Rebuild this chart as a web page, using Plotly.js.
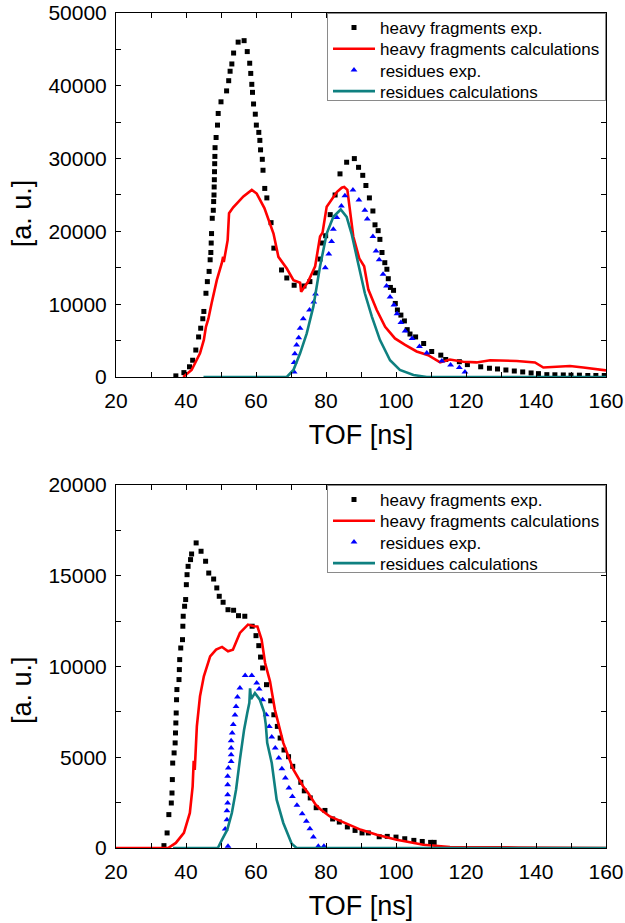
<!DOCTYPE html>
<html>
<head>
<meta charset="utf-8">
<script src="https://cdn.plot.ly/plotly-3.0.1.min.js"></script>
<style>
html,body{margin:0;padding:0;background:#fff;}
#chart{width:625px;height:923px;}
</style>
</head>
<body>
<div id="chart"></div>
<script>
// ---------- Top panel data ----------
const topHeavyExpX = [37.1,39.4,41.0,41.9,42.8,43.6,44.2,44.8,45.1,45.7,46.1,46.6,46.9,47.1,47.2,47.3,47.5,47.8,47.9,48.0,48.05,48.1,48.15,48.2,48.25,48.3,48.6,49.0,49.2,50.0,51.6,52.2,52.6,53.1,53.6,54.9,56.6,57.5,58.2,58.5,58.8,59.0,59.3,59.8,60.1,60.8,61.1,61.3,61.8,62.0,62.5,63.1,64.3,65.1,67.3,68.8,70.9,73.7,75.4,77.0,78.3,79.0,79.9,81.2,82.6,84.0,85.9,88.1,89.3,90.5,91.4,92.4,93.4,94.0,94.9,95.4,96.0,96.8,97.4,97.8,98.4,99.3,99.8,100.4,101.4,102.4,103.2,104.0,105.6,107.9,110.2,112.8,114.2,118.1,120.4,124.2,126.7,129.0,131.4,133.8,136.2,138.6,140.7,143.1,145.4,147.8,150.0,152.4,154.8,157.1,159.5];
const topHeavyExpY = [150,600,1400,2300,3700,5500,6700,8000,9000,11500,13100,14500,16100,17100,18400,19700,21800,22900,24100,25000,26100,27100,28200,29300,30300,31500,32900,34600,36200,37800,39300,40700,42000,43000,44500,46000,46200,44700,43100,41700,40200,39100,37500,36100,34600,33600,32500,31200,29900,28400,25900,24600,21200,17700,14700,13600,12600,12500,13100,14300,16200,18400,19400,22300,25000,27900,29500,30000,28800,27700,26300,24600,22800,20900,20100,18900,17100,15700,14800,13500,12300,11900,10100,9200,8500,7700,6500,5900,5500,4600,3500,3000,2400,2100,1700,1400,1200,1100,960,820,690,550,460,320,300,280,250,250,200,200,200];

const topHeavyCalcX = [39.2,41.6,44.0,45.1,45.7,46.4,47.3,48.8,50.2,50.6,50.8,51.9,52.3,53.5,56.4,58.8,60.2,62.1,62.4,65.0,66.4,68.8,70.7,72.6,72.9,74.9,76.9,78.3,79.0,80.2,83.1,84.5,85.2,86.1,86.9,87.8,89.5,90.9,92.1,94.5,96.9,99.7,102.6,105.9,109.2,112.6,115.4,119.2,123.0,126.9,134.5,139.7,142.1,149.7,153.5,159.2,160];
const topHeavyCalcY = [0,960,3250,5100,6900,8000,10100,13300,15600,16500,15800,18800,22500,23300,24800,25700,25200,23600,23200,19700,16500,14900,13300,12950,11700,13100,15200,19300,19800,23400,25400,26000,26100,25700,22500,19300,16300,15200,12000,9200,6900,5300,4400,3500,3000,2000,2400,2100,2000,2300,2200,2000,1300,1500,1300,960,900];

const topResExpX = [70.9,70.9,71.1,71.6,72.2,72.6,73.5,75.3,76.5,77.0,79.8,80.8,81.6,82.1,83.1,84.4,85.4,87.7,89.4,91.1,91.8,93.4,94.3,95.2,96.3,97.3,98.3,99.4,100.3,101.4,102.6,104.6,106.7,108.8,113.1,115.6,118.1,119.7];
const topResExpY = [700,2000,3200,4400,5400,6700,8000,9200,10300,11400,15000,16900,18600,20300,21900,23500,24900,25700,24300,22900,21700,19300,17300,16100,14100,12500,11000,9900,8700,7500,6300,5300,4200,3300,2200,1650,1300,700];

const topResCalcX = [45.0,68.8,70.7,72.6,74.5,76.4,78.3,80.2,82.1,84.2,85.9,87.3,89.2,91.1,93.1,95.4,98.3,101.1,105.0,108.8,160];
const topResCalcY = [0,0,960,3250,6000,9700,15200,19700,22000,23000,22000,19700,15600,11500,8300,5100,2300,960,270,0,0];

// ---------- Bottom panel data ----------
const botHeavyExpX = [33.7,34.6,35.1,35.8,36.0,36.1,36.2,36.6,36.9,37.0,37.1,37.2,37.3,37.4,38.0,38.1,38.2,38.5,39.0,39.1,39.2,39.6,39.9,40.1,40.3,40.6,41.3,41.6,42.9,44.3,45.6,46.5,47.9,48.8,49.5,50.6,52.0,53.6,55.0,56.8,58.9,60.0,60.8,61.3,61.9,63.0,64.2,65.1,66.1,66.9,68.0,69.3,70.5,72.8,73.8,75.5,77.2,79.7,81.9,83.8,86.1,88.3,90.3,92.1,95.2,97.5,100.0,102.5,105.1,107.5,109.9,110.9];
const botHeavyExpY = [130,830,1840,2480,3030,3770,4680,5240,5790,6340,6890,7440,8170,8730,9280,9830,10380,11020,11480,12220,12770,13320,13690,14510,15060,15520,15890,16200,16810,16350,15800,15150,14820,14330,13870,13540,13130,13100,12800,12770,12220,11700,11150,10520,9920,9000,8110,7340,6700,6060,5400,5030,4500,3620,3150,2760,2220,2070,1600,1430,1160,970,830,830,620,640,600,510,420,360,310,310];

const botHeavyCalcX = [20,34.9,37.1,39.4,41.1,41.9,42.2,42.5,43.1,44.0,45.1,46.9,48.6,50.3,52.0,53.4,55.4,57.7,59.4,60.4,61.6,62.6,64.0,65.4,67.8,70.7,73.5,74.9,77.0,78.3,81.1,84.0,86.9,90.0,94.5,100.2,107.8,115.4,135.0,144.0,160];
const botHeavyCalcY = [0,0,280,830,1930,3400,4800,4300,6700,8360,9460,10560,10930,11080,10840,10930,11850,12310,12220,12210,11480,10190,9180,7620,5790,4310,3390,3030,2400,2150,1740,1500,1280,1000,730,460,180,55,30,20,0];

const botResExpX = [52.0,51.2,51.7,51.7,51.9,51.9,51.9,51.9,52.1,52.9,52.9,52.9,52.9,53.2,53.5,54.0,54.3,54.7,55.4,56.9,58.8,60.2,60.9,61.9,62.9,63.8,64.5,65.5,66.5,67.4,68.4,69.4,70.4,71.7,73.2,74.4,75.4,76.4,77.8,79.4];
const botResExpY = [90,1050,1560,2050,2480,2940,3490,3950,4410,4770,5140,5510,5910,6340,6800,7330,7800,8320,8820,9500,9500,9090,8760,8170,7340,6700,6120,5510,4960,4370,3860,3310,2840,2350,1890,1470,1060,600,90,90];

const botResCalcX = [36.3,49.1,50.3,51.8,53.1,54.3,55.4,56.6,57.5,58.1,58.3,58.6,59.7,61.1,62.3,62.8,63.2,64.5,65.9,67.8,70.2,71.6,160];
const botResCalcY = [0,0,460,1010,1930,3210,4870,6520,7440,8000,8800,8200,8540,8170,7500,6800,5800,4680,2660,1380,240,0,0];

const seriesNames = ['heavy fragments exp.','heavy fragments calculations','residues exp.','residues calculations'];
const xTitle = 'TOF [ns]';
const yTitle = '[a. u.]';

// ---------- styles ----------
const FONT = 'Liberation Sans, Arial, Helvetica, sans-serif';
const cBlack = '#000000', cRed = '#ff0000', cBlue = '#0000ff', cTeal = '#0f8080';

function mk(x, y, idx, xa, ya, leg) {
  const base = {x: x, y: y, xaxis: xa, yaxis: ya, name: seriesNames[idx], legend: leg, showlegend: true};
  if (idx === 0) return Object.assign(base, {mode: 'markers', type: 'scatter', marker: {symbol: 'square', size: 5, color: cBlack}});
  if (idx === 1) return Object.assign(base, {mode: 'lines', type: 'scatter', line: {color: cRed, width: 2.6}});
  if (idx === 2) return Object.assign(base, {mode: 'markers', type: 'scatter', marker: {symbol: 'triangle-up', size: 6, color: cBlue}});
  return Object.assign(base, {mode: 'lines', type: 'scatter', line: {color: cTeal, width: 2.6}});
}

const traces = [
  mk(topHeavyExpX, topHeavyExpY, 0, 'x', 'y', 'legend'),
  mk(topHeavyCalcX, topHeavyCalcY, 1, 'x', 'y', 'legend'),
  mk(topResExpX, topResExpY, 2, 'x', 'y', 'legend'),
  mk(topResCalcX, topResCalcY, 3, 'x', 'y', 'legend'),
  mk(botHeavyExpX, botHeavyExpY, 0, 'x2', 'y2', 'legend2'),
  mk(botHeavyCalcX, botHeavyCalcY, 1, 'x2', 'y2', 'legend2'),
  mk(botResExpX, botResExpY, 2, 'x2', 'y2', 'legend2'),
  mk(botResCalcX, botResCalcY, 3, 'x2', 'y2', 'legend2')
];

const topDomain = [0.5641, 1];
const botDomain = [0, 0.4347];

function xAxis(anchor) {
  return {
    anchor: anchor, domain: [0, 1], range: [20, 160], dtick: 20, tick0: 0,
    showgrid: false, zeroline: false, showline: true, linecolor: '#000', linewidth: 1,
    mirror: 'allticks', ticks: 'inside', ticklen: 5, tickcolor: '#000', tickwidth: 1,
    minor: {dtick: 10, ticks: 'inside', ticklen: 5, tickcolor: '#000', tickwidth: 1, showgrid: false},
    tickfont: {family: FONT, size: 21, color: '#000'},
    ticklabelstandoff: 5,
    title: {text: xTitle, font: {family: FONT, size: 27, color: '#000'}, standoff: 13},
    automargin: false
  };
}
function yAxis(anchor, dom, max, dt) {
  return {
    anchor: anchor, domain: dom, range: [0, max], dtick: dt, tick0: 0,
    tickformat: 'd', separatethousands: false, exponentformat: 'none',
    showgrid: false, zeroline: false, showline: true, linecolor: '#000', linewidth: 1,
    mirror: 'allticks', ticks: 'inside', ticklen: 5, tickcolor: '#000', tickwidth: 1,
    minor: {dtick: dt / 2, ticks: 'inside', ticklen: 5, tickcolor: '#000', tickwidth: 1, showgrid: false},
    tickfont: {family: FONT, size: 21, color: '#000'},
    ticklabelstandoff: 4,
    automargin: false
  };
}

const legendStyle = {
  xref: 'paper', yref: 'paper', x: 1, xanchor: 'right', yanchor: 'top',
  bgcolor: '#ffffff', bordercolor: '#8a8a8a', borderwidth: 1,
  font: {family: FONT, size: 17, color: '#000'}, tracegroupgap: 0, itemwidth: 42
};

const layout = {
  width: 625, height: 923,
  margin: {l: 116, r: 19, t: 13, b: 75, pad: 0},
  paper_bgcolor: '#ffffff', plot_bgcolor: '#ffffff',
  showlegend: true,
  xaxis: xAxis('y'),
  yaxis: yAxis('x', topDomain, 50000, 10000),
  xaxis2: xAxis('y2'),
  yaxis2: yAxis('x2', botDomain, 20000, 5000),
  legend: Object.assign({}, legendStyle, {y: 1}),
  legend2: Object.assign({}, legendStyle, {y: botDomain[1]}),
  annotations: [
    {text: yTitle, xref: 'paper', yref: 'paper', x: -0.192, y: 0.760, xanchor: 'center', yanchor: 'middle',
     textangle: -90, showarrow: false, font: {family: FONT, size: 27, color: '#000'}},
    {text: yTitle, xref: 'paper', yref: 'paper', x: -0.192, y: 0.189, xanchor: 'center', yanchor: 'middle',
     textangle: -90, showarrow: false, font: {family: FONT, size: 27, color: '#000'}}
  ]
};

// Compact legend rows (reference spacing is tighter than Plotly's default) and longer line samples.
function tightenLegends(gd) {
  const step = 21.2, first = 14.5, boxH = 87;
  ['legend', 'legend2'].forEach(function (id) {
    const lg = gd.querySelector('g.' + id);
    if (!lg) return;
    lg.querySelectorAll('g.traces').forEach(function (t, i) {
      t.setAttribute('transform', 'translate(1,' + (first + step * i) + ')');
    });
    lg.querySelectorAll('path.legendlines').forEach(function (p) { p.setAttribute('d', 'M6,0h40'); });
    lg.querySelectorAll('path.scatterpts').forEach(function (p) { p.setAttribute('transform', 'translate(26,0)'); });
    const bg = lg.querySelector('rect.bg');
    if (bg) bg.setAttribute('height', boxH);
    lg.querySelectorAll('clipPath rect, rect.scrollbox-bg').forEach(function (r) { r.setAttribute('height', boxH); });
  });
}

Plotly.newPlot('chart', traces, layout, {displayModeBar: false, staticPlot: true}).then(tightenLegends);
</script>
</body>
</html>
